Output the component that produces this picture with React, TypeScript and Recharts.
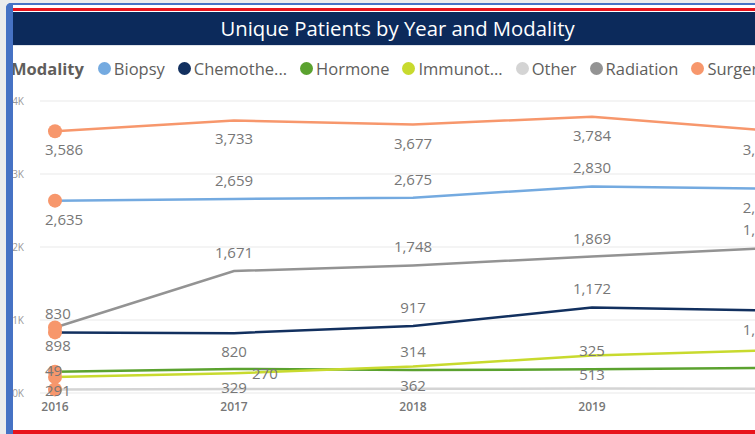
import { LineChart, Line, XAxis, YAxis, CartesianGrid, LabelList } from 'recharts';

const years = ['2016', '2017', '2018', '2019', '2020'];

const biopsy = [2635, 2659, 2675, 2830, 2798];
const chemotherapy = [830, 820, 917, 1172, 1130];
const hormone = [291, 329, 314, 325, 345];
const immunotherapy = [219, 270, 362, 513, 585];
const other = [49, 55, 58, 60, 57];
const radiation = [898, 1671, 1748, 1869, 1985];
const surgery = [3586, 3733, 3677, 3784, 3592];

const yTicks = [0, 1000, 2000, 3000, 4000];

const seriesNames = ['Biopsy', 'Chemotherapy', 'Hormone', 'Immunotherapy', 'Other', 'Radiation', 'Surgery'];
const legendLabels = ['Biopsy', 'Chemothe...', 'Hormone', 'Immunot...', 'Other', 'Radiation', 'Surgery'];
const seriesValues = [biopsy, chemotherapy, hormone, immunotherapy, other, radiation, surgery];

const colors: Record<string, string> = {
  Biopsy: '#74aae0',
  Chemotherapy: '#12305f',
  Hormone: '#5ba22f',
  Immunotherapy: '#c8da2e',
  Other: '#d4d4d4',
  Radiation: '#939393',
  Surgery: '#f7976c',
};

// where Power BI put each data label: T above, B below, R right, N hidden
const labelPlace: Record<string, string[]> = {
  Biopsy: ['B', 'T', 'T', 'T', 'B'],
  Chemotherapy: ['T', 'B', 'T', 'T', 'B'],
  Hormone: ['B', 'B', 'T', 'T', 'N'],
  Immunotherapy: ['N', 'R', 'B', 'B', 'N'],
  Other: ['T', 'N', 'N', 'N', 'N'],
  Radiation: ['B', 'T', 'T', 'T', 'T'],
  Surgery: ['B', 'B', 'B', 'B', 'B'],
};

const data = years.map((year, i) => {
  const row: Record<string, string | number> = { year };
  seriesNames.forEach((name, s) => {
    row[name] = seriesValues[s][i];
  });
  return row;
});

const FONT = "'Open Sans', 'Noto Sans', sans-serif";

function makeLabel(name: string) {
  return (props: any) => {
    const { x, y, value, index } = props;
    const place = labelPlace[name][index];
    if (place === 'N' || x == null || y == null) return null;
    let tx = x;
    let ty = y;
    let anchor: 'start' | 'middle' | 'end' = 'middle';
    if (place === 'T') ty = y - 19;
    if (place === 'B') ty = y + 18;
    if (place === 'R') {
      tx = x + 18;
      anchor = 'start';
    } else if (index === 0) {
      tx = x - 10;
      anchor = 'start';
    } else if (index === years.length - 1) {
      tx = x + 10;
      anchor = 'end';
    }
    return (
      <text
        x={tx}
        y={ty}
        textAnchor={anchor}
        dominantBaseline="central"
        fontSize={15}
        fontFamily={FONT}
        fill="#777777"
      >
        {Number(value).toLocaleString('en-US')}
      </text>
    );
  };
}

const firstDot = (props: any) => {
  const { cx, cy, index } = props;
  if (index !== 0) return <g key={`e-${index}`} />;
  return <circle key={`d-${index}`} cx={cx} cy={cy} r={7} fill={colors.Surgery} />;
};

export default function App() {
  return (
    <div
      style={{
        position: 'absolute',
        left: 0,
        top: 0,
        width: 755,
        height: 434,
        overflow: 'hidden',
        background: '#ececec',
        fontFamily: FONT,
      }}
    >
      {/* white card with blue frame */}
      <div
        style={{
          position: 'absolute',
          left: 6,
          top: 3,
          width: 800,
          height: 440,
          background: '#ffffff',
          borderLeft: '6px solid #4672c4',
          borderTop: '2px solid #4672c4',
          borderTopLeftRadius: 5,
          boxSizing: 'border-box',
        }}
      />
      <div style={{ position: 'absolute', left: 12, top: 8, width: 800, height: 3, background: '#e8141b' }} />
      <div
        style={{
          position: 'absolute',
          left: 13,
          top: 12,
          width: 769,
          height: 33,
          background: '#0c2a5b',
          color: '#ffffff',
          fontSize: 20.3,
          lineHeight: '33px',
          textAlign: 'center',
        }}
      >
        Unique Patients by Year and Modality
      </div>
      <div style={{ position: 'absolute', left: 13, top: 45, width: 800, height: 1, background: '#dfe3ea' }} />

      {/* legend */}
      <div
        style={{
          position: 'absolute',
          left: 11,
          top: 57,
          height: 22,
          display: 'flex',
          alignItems: 'center',
          whiteSpace: 'nowrap',
          fontSize: 16.5,
          color: '#605e5c',
        }}
      >
        <span style={{ fontWeight: 700, marginRight: 14 }}>Modality</span>
        {seriesNames.map((name, i) => (
          <span key={name} style={{ display: 'flex', alignItems: 'center', marginRight: 13 }}>
            <span
              style={{
                width: 13,
                height: 13,
                borderRadius: '50%',
                background: colors[name],
                marginRight: 3,
              }}
            />
            {legendLabels[i]}
          </span>
        ))}
      </div>

      <div style={{ position: 'absolute', left: 0, top: 90 }}>
        <LineChart width={782} height={333} data={data} margin={{ top: 11, right: 0, bottom: 0, left: 0 }}>
          <CartesianGrid vertical={false} stroke="#e9e9e9" />
          <XAxis
            dataKey="year"
            interval={0}
            padding={{ left: 15, right: 11 }}
            axisLine={false}
            tickLine={false}
            tickSize={0}
            tickMargin={9}
            height={30}
            tick={{ fontSize: 12, fontWeight: 600, fill: '#777777', fontFamily: FONT }}
          />
          <YAxis
            width={40}
            domain={[0, 4000]}
            ticks={yTicks}
            axisLine={false}
            tickLine={false}
            tickSize={0}
            tickMargin={16}
            tickFormatter={(v: number) => `${v / 1000}K`}
            tick={{ fontSize: 10, fill: '#999999', fontFamily: FONT }}
          />
          {seriesNames.map((name) => (
            <Line
              key={name}
              type="linear"
              dataKey={name}
              stroke={colors[name]}
              strokeWidth={2.5}
              dot={false}
              activeDot={false}
              isAnimationActive={false}
            >
              <LabelList dataKey={name} content={makeLabel(name)} />
            </Line>
          ))}
          {seriesNames.map((name) => (
            <Line
              key={`${name}-dot`}
              type="linear"
              dataKey={name}
              stroke="none"
              dot={firstDot}
              activeDot={false}
              legendType="none"
              isAnimationActive={false}
            />
          ))}
        </LineChart>
      </div>

      {/* frame overlays on top of the chart */}
      <div style={{ position: 'absolute', left: 6, top: 3, width: 7, height: 440, background: '#4672c4', borderTopLeftRadius: 5 }} />
      <div style={{ position: 'absolute', left: 13, top: 430, width: 800, height: 4, background: '#e8141b' }} />
    </div>
  );
}
